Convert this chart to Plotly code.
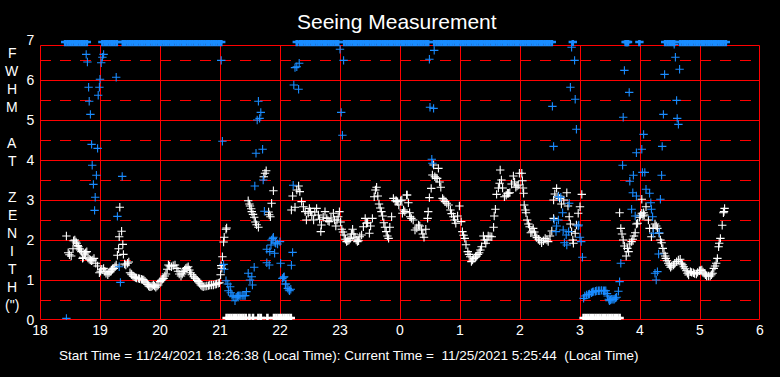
import plotly.graph_objects as go

# ---------------- data ----------------
hour_ticks = [18, 19, 20, 21, 22, 23, 24, 25, 26, 27, 28, 29, 30]
hour_labels = ["18", "19", "20", "21", "22", "23", "0", "1", "2", "3", "4", "5", "6"]
fwhm_ticks = [0, 1, 2, 3, 4, 5, 6, 7]

# white series (local hour after 18:00, FWHM arcsec)
white_x = [
    18.44, 18.47, 18.49, 18.52, 18.55, 18.56, 18.58, 18.60, 18.61, 18.63, 18.64, 18.66, 18.67, 18.69,
    18.71, 18.72, 18.74, 18.76, 18.78, 18.80, 18.82, 18.84, 18.86, 18.88, 18.90, 18.93, 18.96, 18.99,
    19.01, 19.03, 19.06, 19.08, 19.10, 19.13, 19.15, 19.17, 19.19, 19.21, 19.23, 19.25, 19.27, 19.29,
    19.31, 19.32, 19.33, 19.36, 19.38, 19.39, 19.41, 19.43, 19.46, 19.48, 19.50, 19.52, 19.53, 19.55,
    19.57, 19.59, 19.61, 19.64, 19.66, 19.69, 19.71, 19.73, 19.75, 19.77, 19.79, 19.81, 19.83, 19.85,
    19.87, 19.89, 19.91, 19.93, 19.95, 19.97, 20.00, 20.02, 20.04, 20.06, 20.08, 20.10, 20.12, 20.14,
    20.16, 20.19, 20.22, 20.25, 20.28, 20.30, 20.32, 20.35, 20.37, 20.39, 20.41, 20.43, 20.45, 20.47,
    20.49, 20.51, 20.53, 20.56, 20.58, 20.60, 20.62, 20.64, 20.66, 20.68, 20.70, 20.72, 20.75, 20.78,
    20.81, 20.83, 20.86, 20.89, 20.92, 20.94, 20.97, 20.99, 21.01, 21.02, 21.03, 21.04, 21.06, 21.07,
    21.10, 21.11,
    21.47, 21.49, 21.50, 21.52, 21.53, 21.55, 21.57, 21.59, 21.61, 21.64, 21.73, 21.75, 21.77, 21.81,
    21.82, 21.84, 21.86, 21.89,
    22.19, 22.21, 22.25, 22.28, 22.31, 22.33, 22.36, 22.39, 22.42, 22.44, 22.47, 22.49, 22.51, 22.53,
    22.56, 22.58, 22.61, 22.64, 22.66, 22.68, 22.69, 22.72, 22.75, 22.78, 22.80, 22.82, 22.85, 22.89,
    22.91, 22.93, 22.95, 22.97, 22.99, 23.01, 23.03, 23.05, 23.07, 23.09, 23.11, 23.13, 23.15, 23.17,
    23.19, 23.21, 23.23, 23.25, 23.27, 23.29, 23.31, 23.33, 23.36, 23.39, 23.42, 23.44, 23.46, 23.49,
    23.51, 23.54, 23.57, 23.59, 23.61, 23.63, 23.65, 23.67, 23.69, 23.71, 23.73, 23.75, 23.77, 23.79,
    23.81, 23.83, 23.86, 23.89, 23.92, 23.94, 23.96, 23.98, 24.01, 24.03, 24.04, 24.06, 24.08, 24.11,
    24.12, 24.14, 24.16, 24.17, 24.19, 24.22, 24.25, 24.28, 24.31, 24.33, 24.36, 24.38, 24.40, 24.43,
    24.46, 24.47, 24.49, 24.52, 24.54, 24.56, 24.58, 24.60, 24.62, 24.64, 24.66, 24.68, 24.71, 24.73,
    24.75, 24.78, 24.81, 24.84, 24.86, 24.89, 24.91, 24.93, 24.96, 24.99, 25.02, 25.04, 25.06, 25.08,
    25.10, 25.13, 25.15, 25.17, 25.19, 25.21, 25.23, 25.26, 25.28, 25.30, 25.32, 25.34, 25.36, 25.39,
    25.41, 25.43, 25.45, 25.47, 25.50, 25.53, 25.56, 25.57, 25.59, 25.61, 25.64, 25.66, 25.67, 25.69,
    25.71, 25.74, 25.77, 25.79, 25.81, 25.83, 25.86, 25.89, 25.91, 25.93, 25.95, 25.97, 25.99, 26.03,
    26.04, 26.05, 26.06, 26.07, 26.09, 26.10, 26.12, 26.14, 26.16, 26.18, 26.20, 26.22, 26.24, 26.26,
    26.28, 26.31, 26.33, 26.36, 26.39, 26.42, 26.45, 26.47, 26.50, 26.53, 26.56, 26.56, 26.58, 26.61,
    26.64, 26.66, 26.69, 26.73, 26.78, 26.80, 26.82, 26.84, 26.86, 26.88, 26.89, 26.92, 26.94, 26.97,
    27.00, 27.03,
    27.66, 27.68, 27.70, 27.72, 27.74, 27.77, 27.79, 27.81, 27.83, 27.86, 27.88, 27.90, 27.92, 27.94,
    27.96, 27.99, 28.01, 28.03, 28.05, 28.07, 28.10, 28.03, 28.06, 28.14, 28.16, 28.19, 28.22, 28.25,
    28.27, 28.29, 28.32, 28.34, 28.36, 28.38, 28.40, 28.42, 28.43, 28.45, 28.47, 28.49, 28.51, 28.53,
    28.56, 28.58, 28.61, 28.64, 28.67, 28.69, 28.71, 28.73, 28.75, 28.77, 28.79, 28.81, 28.84, 28.86,
    28.89, 28.91, 28.94, 28.96, 28.99, 29.01, 29.03, 29.05, 29.07, 29.09, 29.11, 29.14, 29.17, 29.19,
    29.21, 29.23, 29.25, 29.27, 29.29, 29.31, 29.32, 29.34, 29.37, 29.39, 29.40, 29.41,
]
white_y = [
    2.10, 1.68, 1.63, 1.60, 1.78, 1.98, 2.00, 1.95, 1.92, 1.86, 1.83, 1.78, 1.75, 1.71,
    1.54, 1.57, 1.65, 1.68, 1.71, 1.55, 1.52, 1.50, 1.48, 1.50, 1.54, 1.42, 1.35, 1.18,
    1.22, 1.27, 1.29, 1.22, 1.17, 1.13, 1.18, 1.21, 1.25, 1.27, 1.29, 1.33, 1.375, 1.62,
    1.78, 2.08, 2.82, 2.22, 1.89, 1.64, 1.40, 1.375, 1.42, 1.45, 1.18, 1.15, 1.13, 1.10,
    1.08, 1.06, 1.05, 1.04, 1.03, 1.02, 1.01, 1.00, 0.97, 0.93, 0.89, 0.85, 0.83, 0.83,
    0.85, 0.875, 0.85, 0.82, 0.85, 0.875, 0.96, 0.99, 1.02, 1.04, 1.10, 1.15, 1.27, 1.375,
    1.35, 1.33, 1.36, 1.375, 1.29, 1.22, 1.15, 1.10, 1.15, 1.21, 1.25, 1.29, 1.31, 1.33,
    1.25, 1.18, 1.13, 1.08, 1.05, 1.03, 0.99, 0.96, 0.92, 0.875, 0.85, 0.83, 0.84, 0.85,
    0.86, 0.875, 0.875, 0.875, 0.89, 0.90, 0.92, 0.93, 1.13, 1.36, 1.29, 1.58, 1.95, 2.07,
    2.27, 2.30,
    2.98, 2.90, 2.85, 2.78, 2.71, 2.64, 2.57, 2.45, 2.38, 2.32, 3.58, 3.67, 3.73, 2.70,
    2.63, 2.58, 2.92, 3.23,
    2.75, 3.10, 2.82, 3.25, 3.35, 3.21, 2.96, 2.83, 2.71, 2.50, 2.67, 2.79, 2.71, 2.62,
    2.50, 2.70, 2.79, 2.625, 2.52, 2.21, 2.375, 2.57, 2.71, 2.54, 2.48, 2.46, 2.55, 2.67,
    2.50, 2.35, 2.50, 2.58, 2.71, 2.45, 2.27, 2.20, 2.125, 2.02, 1.96, 1.98, 2.00, 2.04,
    2.15, 2.27, 2.15, 2.07, 2.00, 1.96, 1.98, 2.08, 2.125, 2.33, 2.54, 2.42, 2.43, 2.17,
    2.35, 2.54, 3.08, 3.25, 3.32, 3.10, 2.90, 2.80, 2.71, 2.60, 2.43, 2.32, 2.21, 2.10,
    2.04, 2.32, 2.58, 3.04, 2.98, 2.98, 2.96, 2.875, 2.98, 3.00, 2.67, 2.75, 2.71, 3.125,
    3.125, 2.93, 2.68, 2.58, 2.54, 2.50, 2.25, 2.30, 2.375, 2.35, 2.25, 2.15, 2.07, 2.27,
    2.54, 2.71, 3.06, 3.29, 3.625, 3.875, 3.58, 3.55, 3.54, 3.79, 3.45, 3.32, 3.04, 3.00,
    2.96, 2.92, 2.875, 2.75, 2.66, 2.58, 2.50, 2.42, 2.60, 2.85, 2.46, 2.21, 2.12, 2.04,
    1.88, 1.71, 1.64, 1.58, 1.46, 1.50, 1.54, 1.57, 1.60, 1.64, 1.68, 1.75, 1.83, 2.10,
    2.00, 1.92, 2.00, 2.10, 2.09, 2.08, 2.32, 2.60, 2.77, 3.14, 3.30, 3.42, 3.75, 3.50,
    3.30, 3.08, 3.12, 3.17, 3.17, 3.18, 3.40, 3.60, 3.45, 3.32, 3.35, 3.375, 3.67, 3.67,
    3.48, 3.30, 3.17, 2.875, 2.75, 2.68, 2.50, 2.40, 2.33, 2.18, 2.22, 2.29, 2.20, 2.10,
    2.06, 2.02, 1.98, 1.93, 1.98, 2.04, 2.00, 1.96, 2.10, 2.225, 2.54, 3.00, 3.15, 3.29,
    3.10, 3.04, 2.90, 3.00, 3.18, 2.85, 2.58, 2.40, 2.21, 2.00, 1.92, 2.17, 2.375, 2.67,
    2.83, 3.14,
    2.68, 2.29, 2.15, 2.00, 1.85, 1.60, 1.79, 1.71, 1.90, 1.96, 2.02, 2.10, 2.18, 2.40,
    2.42, 2.57, 2.62, 2.67, 2.60, 2.625, 2.83, 3.02, 2.68, 2.50, 2.29, 2.08, 2.30, 2.40,
    2.35, 2.29, 2.17, 2.00, 1.93, 1.79, 1.67, 1.60, 1.54, 1.48, 1.42, 1.37, 1.32, 1.35,
    1.375, 1.42, 1.46, 1.50, 1.52, 1.42, 1.38, 1.33, 1.28, 1.23, 1.17, 1.125, 1.21, 1.19,
    1.18, 1.16, 1.15, 1.19, 1.23, 1.24, 1.25, 1.20, 1.17, 1.13, 1.10, 1.10, 1.10, 1.13,
    1.17, 1.29, 1.35, 1.42, 1.54, 1.83, 1.92, 2.04, 2.37, 2.68, 2.71, 2.79,
]

# white samples sitting on the floor of the scale
white_floor_x = [
    21.11, 21.15, 21.19, 21.23, 21.27, 21.31, 21.35, 21.39, 21.43, 21.49, 21.55, 21.64, 21.68, 21.79,
    21.90, 21.94, 21.98, 22.02, 22.06, 22.10, 22.14, 22.18,
    27.06, 27.10, 27.14, 27.18, 27.22, 27.26, 27.30, 27.34, 27.38, 27.42, 27.46, 27.50, 27.54, 27.58,
    27.62, 27.66,
]
FLOOR_VALUE = 0.05

# blue series
blue_x = [
    18.44,
    18.77, 18.79, 19.06, 19.04, 19.02, 19.00, 19.27, 18.81, 18.99, 18.97, 18.82, 18.84, 18.86, 18.96,
    18.87, 18.94, 19.37, 18.89, 18.92, 18.91, 19.29, 19.32, 19.34,
    21.02, 21.04,
    21.06, 21.07, 21.10, 21.13, 21.17, 21.14, 21.18, 21.20, 21.22, 21.25, 21.27, 21.29, 21.31, 21.33,
    21.35, 21.38, 21.40, 21.42, 21.44, 21.47, 21.50, 21.53, 21.54, 21.57,
    21.64, 21.68, 21.66, 21.62, 21.60, 21.71, 21.58, 21.72, 21.74,
    21.78, 21.83, 21.91, 21.88, 21.85, 21.93, 21.96, 22.00, 21.89, 21.86, 21.92, 22.21, 21.78, 21.82,
    22.01, 22.19, 22.04, 22.07, 22.09, 22.13, 22.16, 22.18, 22.06, 22.10, 22.15,
    22.22, 22.28, 22.32, 22.25, 22.23, 22.31, 23.00, 23.06, 23.02, 23.04,
    24.57, 24.49, 24.50, 24.56, 24.53, 24.54,
    26.54, 26.56, 26.86, 26.91, 26.84, 26.92, 26.94,
    26.64, 26.68, 26.82, 26.71, 26.57, 26.64, 26.61, 26.60, 26.72, 26.77, 26.81, 26.97, 27.00, 27.02,
    26.74, 26.78, 27.04, 26.98,
    27.06, 27.08, 27.11, 27.14, 27.16, 27.19, 27.21, 27.23, 27.26, 27.28, 27.31, 27.33, 27.36, 27.39,
    27.41, 27.43, 27.45, 27.46, 27.48, 27.49, 27.51, 27.53, 27.55, 27.57, 27.59, 27.61,
    27.64, 27.66, 27.68, 27.71, 27.74, 27.82, 27.72, 27.89, 27.83, 27.94, 27.88, 27.94, 27.86, 27.92,
    28.06, 28.03,
    28.57, 28.59, 28.66, 28.41, 28.61, 28.39, 28.62, 28.64, 28.37, 28.36, 28.04, 28.08, 28.10, 28.16,
    28.34, 28.18, 28.19, 28.21, 28.22, 28.32, 28.31, 28.25, 28.29, 28.27,
]
blue_y = [
    0.04,
    6.64, 6.45, 6.64, 6.57, 6.43, 6.02, 6.07, 5.82, 5.82, 5.62, 5.47, 5.14, 4.39, 4.29,
    3.87, 3.62, 3.59, 3.39, 3.07, 2.74, 2.59, 1.33, 0.94,
    6.49, 4.47,
    1.39, 1.27, 0.98, 0.90, 0.83, 0.73, 0.68, 0.62, 0.58, 0.48, 0.57, 0.60, 0.61, 0.61,
    0.61, 0.61, 0.61, 0.61, 0.71, 1.17, 1.00, 1.08, 0.875, 1.32,
    5.47, 5.19, 5.04, 5.00, 4.17, 4.27, 3.35, 3.50, 2.72,
    1.77, 1.71, 1.67, 2.04, 1.875, 1.92, 1.90, 1.96, 2.07, 2.00, 1.93, 1.69, 1.43, 1.375,
    1.42, 1.37, 1.04, 1.08, 0.90, 0.79, 0.73, 0.77, 1.07, 0.90, 0.75,
    3.37, 6.33, 6.42, 6.31, 5.875, 5.77, 6.77, 6.49, 5.19, 4.62,
    6.74, 6.52, 5.32, 5.29, 4.02, 3.92,
    5.34, 4.34, 6.82, 6.49, 5.82, 5.52, 4.77,
    3.08, 3.07, 2.92, 2.68, 2.50, 2.50, 2.35, 2.21, 2.25, 2.125, 2.21, 2.35, 2.07, 1.96,
    1.93, 1.875, 1.57, 2.375,
    0.54, 0.60, 0.625, 0.64, 0.65, 0.68, 0.70, 0.71, 0.72, 0.73, 0.73, 0.73, 0.74, 0.73,
    0.73, 0.73, 0.66, 0.60, 0.52, 0.48, 0.50, 0.52, 0.52, 0.52, 0.55, 0.57,
    0.72, 0.96, 1.42, 3.87, 6.24, 5.69, 5.07, 3.62, 3.47, 4.18, 3.18, 3.10, 2.77, 2.60,
    4.64, 4.27,
    6.89, 6.57, 6.27, 6.14, 5.49, 5.14, 5.04, 4.89, 4.34, 3.62, 3.69, 3.69, 3.27, 3.17,
    3.02, 2.93, 2.77, 2.58, 2.17, 2.18, 1.65, 1.17, 1.21, 1.00,
]

# blue samples off the top of the scale
blue_ceiling_x = [
    18.42, 18.46, 18.50, 18.54, 18.58, 18.62, 18.66, 18.70, 18.74, 18.78,
    19.04, 19.08, 19.12, 19.16, 19.20, 19.24, 19.28,
    19.38, 19.42, 19.46, 19.50, 19.54, 19.58, 19.62, 19.66, 19.70, 19.74, 19.78, 19.82, 19.86, 19.90,
    19.94, 19.98, 20.02, 20.06, 20.10, 20.14, 20.18, 20.22, 20.26, 20.30, 20.34, 20.38, 20.42, 20.46,
    20.50, 20.54, 20.58, 20.62, 20.66, 20.70, 20.74, 20.78, 20.82, 20.86, 20.90, 20.94, 20.98, 21.02,
    22.28, 22.33, 22.37, 22.41, 22.45, 22.49, 22.53, 22.57, 22.61, 22.65, 22.69, 22.73, 22.77, 22.81,
    22.85, 22.89, 22.93, 22.97,
    23.07, 23.11, 23.15, 23.19, 23.23, 23.27, 23.31, 23.35, 23.39, 23.43, 23.47, 23.51, 23.55, 23.59,
    23.63, 23.67, 23.71, 23.75, 23.79, 23.83, 23.87, 23.91, 23.95, 23.99, 24.03, 24.07, 24.11, 24.15,
    24.19, 24.23, 24.27, 24.31, 24.35, 24.39, 24.43, 24.47,
    24.57, 24.61, 24.65, 24.69, 24.73, 24.77, 24.81, 24.85, 24.89, 24.93, 24.97, 25.01, 25.05, 25.09,
    25.13, 25.17, 25.21, 25.25, 25.29, 25.33, 25.37, 25.41, 25.45, 25.49, 25.53, 25.57, 25.61, 25.65,
    25.69, 25.73, 25.77, 25.81, 25.85, 25.89, 25.93, 25.97, 26.01, 26.05, 26.09, 26.13, 26.17, 26.21,
    26.25, 26.29, 26.33, 26.37, 26.41, 26.45, 26.49, 26.53,
    26.88, 27.76, 27.78, 27.80, 27.99,
    28.42, 28.46, 28.50, 28.54, 28.57,
    28.67, 28.71, 28.75, 28.79, 28.83, 28.87, 28.91, 28.95, 28.99, 29.03, 29.07, 29.11, 29.15, 29.19,
    29.23, 29.27, 29.31, 29.35, 29.39, 29.43,
]
CEILING_VALUE = 6.95

title_text = "Seeing Measurement"
footer_text = ("Start Time = 11/24/2021 18:26:38 (Local Time): "
               "Current Time =  11/25/2021 5:25:44  (Local Time)")
ylabel_chars = ["F", "W", "H", "M", "", "A", "T", "", "Z", "E", "N", "I", "T", "H", "(\")"]

# ---------------- styling ----------------
RED = "#ff0000"
BLUE = "#1a8cff"
WHITE = "#ffffff"
FONT = "Liberation Sans, Arial, sans-serif"
FRAME_TOP = 6.875

W, H = 780, 377
ML, MT, MR, MB = 40, 40, 20, 57
PW, PH = W - ML - MR, H - MT - MB
# half-pixel nudges (in axis units) so 1px grid lines land on pixel centres
XH = 0.5 * (hour_ticks[-1] - hour_ticks[0]) / PW
YH = 0.5 * (fwhm_ticks[-1] - fwhm_ticks[0]) / PH


def px_to_paper_x(px):
    return (px - ML) / PW


def py_to_paper_y(py):
    return (H - MB - py) / PH


fig = go.Figure()

fig.add_trace(go.Scatter(x=blue_ceiling_x, y=[CEILING_VALUE] * len(blue_ceiling_x), mode="markers",
                         marker=dict(symbol="cross-thin", size=6, color=BLUE,
                                     line=dict(color=BLUE, width=2.6)),
                         hoverinfo="skip"))
fig.add_trace(go.Scatter(x=white_floor_x, y=[FLOOR_VALUE] * len(white_floor_x), mode="markers",
                         marker=dict(symbol="cross-thin", size=6, color=WHITE,
                                     line=dict(color=WHITE, width=2.6)),
                         hoverinfo="skip"))
fig.add_trace(go.Scatter(x=white_x, y=white_y, mode="markers",
                         marker=dict(symbol="cross-thin", size=6, color=WHITE,
                                     line=dict(color=WHITE, width=1.1))))
fig.add_trace(go.Scatter(x=blue_x, y=blue_y, mode="markers",
                         marker=dict(symbol="cross-thin", size=6, color=BLUE,
                                     line=dict(color=BLUE, width=1.1))))

shapes = []
x0, x1 = hour_ticks[0], hour_ticks[-1]
LW = 1
for v in fwhm_ticks[1:-1]:
    shapes.append(dict(type="line", xref="x", yref="y", x0=x0, x1=x1, y0=v - YH, y1=v - YH,
                       line=dict(color=RED, width=LW), layer="below"))
for v in fwhm_ticks[:-1]:
    shapes.append(dict(type="line", xref="x", yref="y", x0=x0, x1=x1,
                       y0=v + 0.5 - YH, y1=v + 0.5 - YH,
                       line=dict(color=RED, width=LW, dash="11px,9px"), layer="below"))
for h in hour_ticks[1:-1]:
    shapes.append(dict(type="line", xref="x", yref="y", x0=h + XH, x1=h + XH, y0=0,
                       y1=FRAME_TOP, line=dict(color=RED, width=LW), layer="below"))
shapes.append(dict(type="rect", xref="x", yref="y", x0=x0 + XH, x1=x1 - XH, y0=0 + YH,
                   y1=FRAME_TOP - YH, line=dict(color=RED, width=LW), layer="below"))

annotations = [
    dict(text=title_text, xref="paper", yref="paper", x=px_to_paper_x(397), y=py_to_paper_y(21),
         xanchor="center", yanchor="middle", showarrow=False,
         font=dict(family=FONT, size=21, color=WHITE)),
    dict(text=footer_text, xref="paper", yref="paper", x=px_to_paper_x(349), y=py_to_paper_y(355),
         xanchor="center", yanchor="middle", showarrow=False,
         font=dict(family=FONT, size=13.5, color=WHITE)),
]
for i, ch in enumerate(ylabel_chars):
    if not ch:
        continue
    annotations.append(dict(text=ch, xref="paper", yref="paper", x=px_to_paper_x(12.5),
                            y=py_to_paper_y(53 + 18 * i), xanchor="center", yanchor="middle",
                            showarrow=False, font=dict(family=FONT, size=14, color=WHITE)))

fig.update_layout(
    width=W, height=H,
    margin=dict(l=ML, r=MR, t=MT, b=MB, pad=0),
    paper_bgcolor="black", plot_bgcolor="black",
    showlegend=False, hovermode=False,
    shapes=shapes, annotations=annotations,
    xaxis=dict(range=[x0, x1], tickvals=hour_ticks, ticktext=hour_labels,
               showgrid=False, zeroline=False, showline=False, ticks="",
               tickfont=dict(family=FONT, size=14, color=WHITE), fixedrange=True),
    yaxis=dict(range=[fwhm_ticks[0], fwhm_ticks[-1]], tickvals=fwhm_ticks,
               showgrid=False, zeroline=False, showline=False,
               ticks="outside", ticklen=2, tickcolor="black",
               tickfont=dict(family=FONT, size=14, color=WHITE), fixedrange=True),
)

fig.write_html("out.html", config={"displayModeBar": False},
               post_script="document.body.style.margin='0px';document.body.style.background='black';")
